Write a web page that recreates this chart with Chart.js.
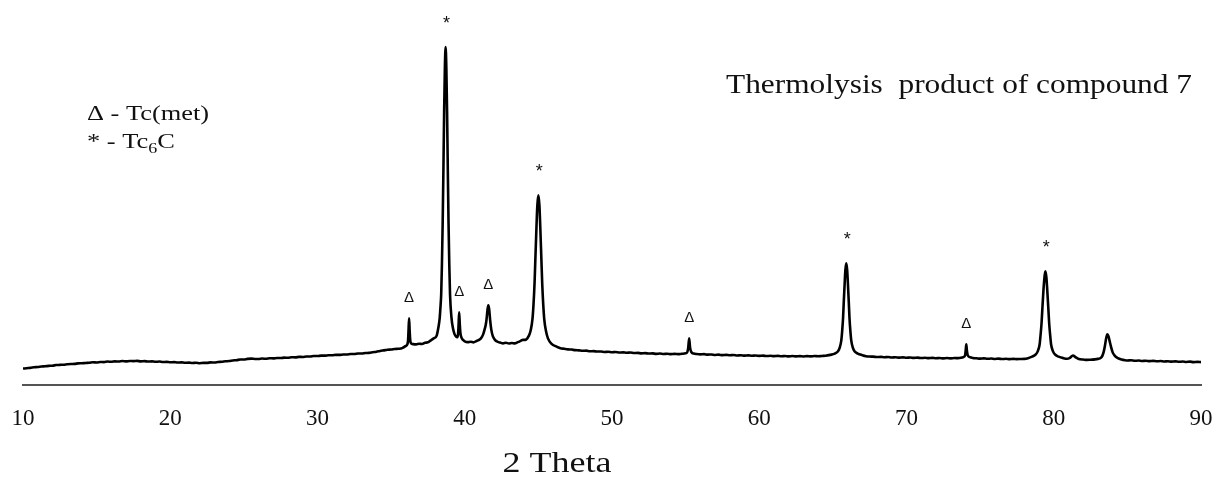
<!DOCTYPE html>
<html>
<head>
<meta charset="utf-8">
<script src="https://cdn.jsdelivr.net/npm/chart.js@4.4.1/dist/chart.umd.min.js"></script>
<style>
  html, body { margin: 0; padding: 0; background: #fff; }
  #wrap { width: 1214px; height: 477px; }
</style>
</head>
<body>
<div id="wrap"><canvas id="xrdChart"></canvas></div>
<script>
// XRD pattern: [2 theta, intensity (a.u.)]
const pattern = [
  [10.0,168],[10.25,172],[10.5,175],[10.75,181],[11.0,183],[11.25,188],[11.5,191],[11.75,195],
  [12.0,197],[12.25,203],[12.5,205],[12.75,207],[13.0,211],[13.25,214],[13.5,215],[13.75,220],
  [14.0,221],[14.25,224],[14.5,226],[14.75,231],[15.0,229],[15.25,234],[15.5,233],[15.75,238],
  [16.0,236],[16.25,240],[16.5,239],[16.75,243],[17.0,240],[17.25,244],[17.5,242],[17.75,245],
  [18.0,240],[18.25,242],[18.5,238],[18.75,240],[19.0,236],[19.25,238],[19.5,234],[19.75,235],
  [20.0,231],[20.25,233],[20.5,229],[20.75,230],[21.0,226],[21.25,228],[21.5,224],[21.75,226],
  [22.0,222],[22.25,225],[22.5,225],[22.75,230],[23.0,229],[23.25,234],[23.5,236],[23.75,241],
  [24.0,243],[24.25,249],[24.5,252],[24.75,258],[25.0,259],[25.25,265],[25.5,267],[25.75,264],
  [26.0,263],[26.25,268],[26.5,266],[26.75,271],[27.0,270],[27.25,274],[27.5,273],[27.75,277],
  [28.0,276],[28.25,281],[28.5,280],[28.75,285],[29.0,284],[29.25,289],[29.5,288],[29.75,293],
  [30.0,293],[30.25,297],[30.5,297],[30.75,301],[31.0,301],[31.25,305],[31.5,305],[31.75,309],
  [32.0,309],[32.25,313],[32.5,313],[32.75,318],[33.0,318],[33.25,323],[33.5,325],[33.75,331],
  [34.0,336],[34.25,344],[34.5,350],[34.75,356],[35.0,358],[35.25,364],[35.5,366],[35.75,372],
  [36.0,395],[36.1,410],[36.15,450],[36.18,540],[36.22,670],[36.26,540],[36.3,450],[36.36,420],
  [36.5,412],[36.7,410],[36.9,416],[37.1,414],[37.3,426],[37.5,430],[37.6,440],[37.9,470],
  [38.1,500],[38.2,570],[38.3,675],[38.35,780],[38.4,910],[38.45,1205],[38.5,1615],[38.55,2145],
  [38.6,2730],[38.65,3170],[38.7,3380],[38.75,3170],[38.8,2730],[38.85,2145],[38.9,1615],[38.95,1205],
  [39.0,910],[39.1,675],[39.2,570],[39.3,515],[39.4,490],[39.5,482],[39.55,520],[39.58,600],
  [39.62,730],[39.66,620],[39.7,530],[39.78,478],[39.9,452],[40.0,440],[40.2,432],[40.4,436],
  [40.6,430],[40.75,440],[40.9,450],[41.1,470],[41.25,510],[41.35,560],[41.42,600],[41.48,660],
  [41.54,750],[41.6,800],[41.66,760],[41.72,660],[41.8,560],[41.9,495],[42.05,455],[42.25,435],
  [42.4,428],[42.6,420],[42.8,426],[43.0,418],[43.2,424],[43.4,420],[43.6,432],[43.8,445],
  [43.95,455],[44.1,455],[44.35,495],[44.48,550],[44.6,665],[44.67,810],[44.74,1020],[44.8,1280],
  [44.87,1580],[44.93,1800],[45.0,1900],[45.07,1800],[45.13,1580],[45.2,1280],[45.26,1020],[45.33,810],
  [45.4,660],[45.52,540],[45.65,470],[45.9,415],[46.2,390],[46.5,372],
  [46.75,366],[47.0,360],[47.25,358],[47.5,352],[47.75,350],[48.0,346],[48.25,347],[48.5,341],
  [48.75,342],[49.0,338],[49.25,339],[49.5,334],[49.75,336],[50.0,331],[50.25,333],[50.5,328],
  [50.75,330],[51.0,326],[51.25,328],[51.5,323],[51.75,325],[52.0,320],[52.25,322],[52.5,318],
  [52.75,320],[53.0,315],[53.25,318],[53.5,314],[53.75,316],[54.0,312],[54.25,315],[54.5,312],
  [54.75,316],[55.0,320],[55.12,335],[55.18,380],[55.24,470],[55.3,380],[55.38,335],[55.55,318],
  [55.75,313],[56.0,310],[56.25,312],[56.5,307],[56.75,309],[57.0,304],[57.25,307],[57.5,302],
  [57.75,305],[58.0,301],[58.25,303],[58.5,299],[58.75,301],[59.0,297],[59.25,300],[59.5,296],
  [59.75,298],[60.0,295],[60.25,297],[60.5,293],[60.75,296],[61.0,292],[61.25,295],[61.5,291],
  [61.75,294],[62.0,290],[62.25,293],[62.5,290],[62.75,292],[63.0,289],[63.25,292],[63.5,290],
  [63.75,293],[64.0,291],[64.25,294],[64.5,296],[64.81,305],[65.13,318],[65.35,341],[65.46,374],
  [65.57,447],[65.63,540],[65.69,668],[65.74,834],[65.8,1018],[65.85,1155],[65.91,1220],[65.97,1155],
  [66.02,1018],[66.08,834],[66.13,668],[66.19,540],[66.25,447],[66.36,374],[66.47,341],[66.69,318],
  [67.0,302],[67.25,292],[67.5,288],
  [67.75,287],[68.0,283],[68.25,285],[68.5,281],[68.75,283],[69.0,279],[69.25,281],[69.5,277],
  [69.75,280],[70.0,276],[70.25,279],[70.5,275],[70.75,277],[71.0,273],[71.25,276],[71.5,272],
  [71.75,275],[72.0,271],[72.25,274],[72.5,270],[72.75,273],[73.0,270],[73.25,273],[73.5,272],
  [73.7,276],[73.85,282],[73.98,300],[74.02,350],[74.06,410],[74.1,350],[74.16,300],[74.3,282],
  [74.5,274],[74.75,271],[75.0,267],[75.25,270],[75.5,266],[75.75,268],[76.0,264],[76.25,267],
  [76.5,263],[76.75,266],[77.0,262],[77.25,265],[77.5,262],[77.75,264],[78.0,265],[78.25,272],
  [78.53,287],[78.78,309],[78.91,340],[79.04,409],[79.1,496],[79.17,618],[79.23,775],[79.3,950],
  [79.37,1080],[79.43,1140],[79.5,1080],[79.56,950],[79.63,775],[79.69,618],[79.76,496],[79.82,409],
  [79.95,340],[80.08,309],[80.33,287],[80.6,275],[80.9,266],[81.1,276],[81.3,298],[81.5,280],
  [81.7,263],[82.0,258],[82.25,255],[82.5,257],[82.8,260],[83.0,265],[83.2,275],[83.3,295],
  [83.4,340],[83.48,400],[83.56,470],[83.64,510],[83.72,490],[83.8,440],[83.9,380],[84.0,330],
  [84.15,295],[84.35,272],[84.6,258],[84.85,251],[85.0,249],[85.25,251],[85.5,246],[85.75,248],
  [86.0,244],[86.25,246],[86.5,242],[86.75,245],[87.0,241],[87.25,243],[87.5,239],[87.75,241],
  [88.0,237],[88.25,240],[88.5,236],[88.75,238],[89.0,234],[89.25,237],[89.5,233],[89.75,235],
  [90.0,232]
];

// Phase marks above the peaks
const peakPos    = [36.22, 38.7, 39.62, 41.6, 45.0, 55.24, 65.91, 74.06, 79.43];
const peakTop    = [670, 3380, 730, 800, 1900, 470, 1220, 410, 1140];
const peakSymbol = ['Δ', '*', 'Δ', 'Δ', '*', 'Δ', '*', 'Δ', '*'];

const xTicks = [10, 20, 30, 40, 50, 60, 70, 80, 90];

const serif = '"Liberation Serif", "Times New Roman", serif';

// text in the original figure is a little wider than Liberation Serif
function wideText(ctx, text, x, y, sx, align) {
    const w = ctx.measureText(text).width * sx;
    let left = x;
    if (align === 'right') left = x - w;
    if (align === 'center') left = x - w / 2;
    ctx.save();
    ctx.textAlign = 'left';
    ctx.translate(left, y);
    ctx.scale(sx, 1);
    ctx.fillText(text, 0, 0);
    ctx.restore();
    return w;
}

const annotations = {
    id: 'annotations',
    afterDraw(chart) {
        const { ctx, scales: { x, y } } = chart;
        ctx.save();
        ctx.fillStyle = '#111';

        // peak marks
        ctx.textAlign = 'center';
        ctx.textBaseline = 'middle';
        peakSymbol.forEach((s, i) => {
            const px = x.getPixelForValue(peakPos[i]);
            const py = y.getPixelForValue(peakTop[i]);
            if (s === '*') {
                ctx.font = '18px "Liberation Sans", Arial, sans-serif';
                ctx.fillText(s, px + 1, py - 23);
            } else {
                ctx.font = '15px "Liberation Sans", Arial, sans-serif';
                ctx.fillText(s, px, py - 20);
            }
        });

        // sample title
        ctx.textBaseline = 'alphabetic';
        ctx.font = '28px ' + serif;
        wideText(ctx, 'Thermolysis  product of compound 7', 1192, 93, 1.12, 'right');

        // phase key
        ctx.font = '22px ' + serif;
        wideText(ctx, 'Δ - Tc(met)', 87, 120, 1.2, 'left');
        let cx = 87;
        cx += wideText(ctx, '* - Tc', cx, 148, 1.2, 'left');
        ctx.font = '15px ' + serif;
        cx += wideText(ctx, '6', cx, 153, 1.2, 'left');
        ctx.font = '22px ' + serif;
        wideText(ctx, 'C', cx, 148, 1.2, 'left');

        // axis title
        ctx.font = '30px ' + serif;
        wideText(ctx, '2 Theta', 557, 472, 1.2, 'center');
        ctx.restore();
    }
};

const ctx = document.getElementById('xrdChart').getContext('2d');
const xrdChart = new Chart(ctx, {
    type: 'line',
    data: {
        datasets: [{
            data: pattern.map(p => ({ x: p[0], y: p[1] })),
            borderColor: '#000',
            borderWidth: 2.6,
            borderJoinStyle: 'round',
            pointRadius: 0,
            cubicInterpolationMode: 'monotone', // also avoids the min/max fast path
            fill: false
        }]
    },
    options: {
        responsive: true,
        maintainAspectRatio: false,
        animation: false,
        layout: { padding: { top: 10, left: 23, right: 13, bottom: 44 } },
        scales: {
            x: {
                type: 'linear',
                min: 10,
                max: 90,
                afterBuildTicks: axis => { axis.ticks = xTicks.map(v => ({ value: v })); },
                grid: { display: false, drawTicks: true, tickLength: 20 },
                border: { display: true, color: '#555', width: 2 },
                ticks: {
                    padding: 0,
                    color: '#111',
                    font: { family: serif, size: 23 }
                }
            },
            y: {
                display: false,
                min: 0,
                max: 3750
            }
        },
        plugins: {
            legend: { display: false },
            tooltip: { enabled: false }
        }
    },
    plugins: [annotations]
});
</script>
</body>
</html>
